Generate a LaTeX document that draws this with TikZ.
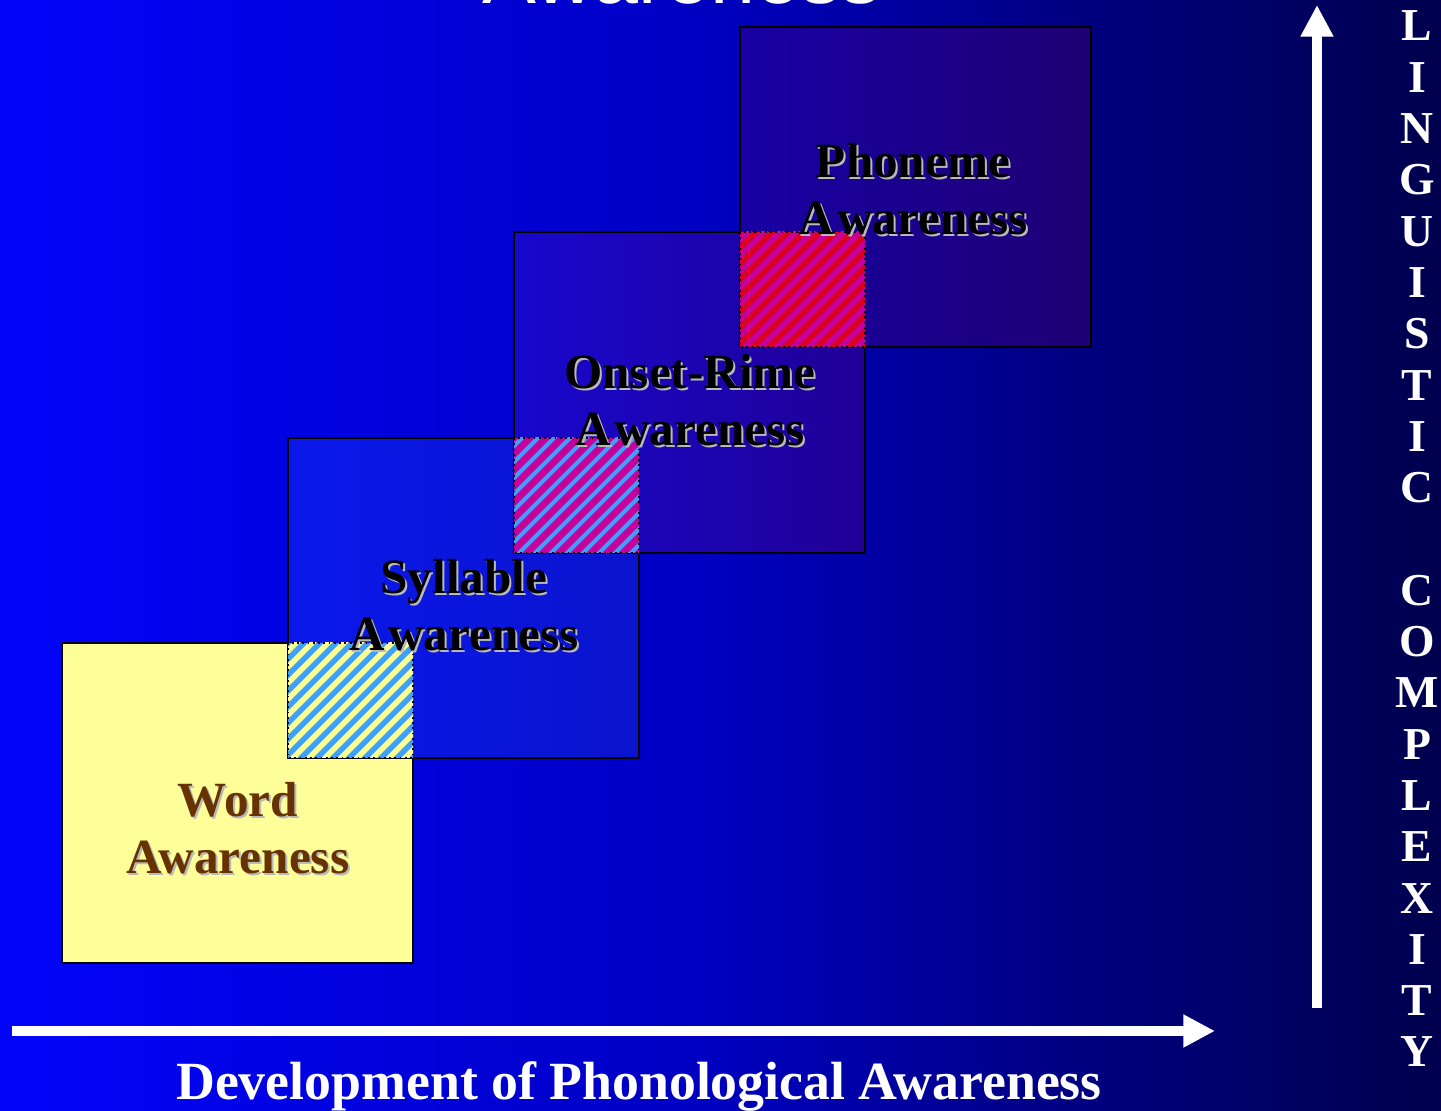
\documentclass[tikz,border=0pt]{standalone}
\usepackage{fontspec}
\setmainfont{Liberation Serif}
\newfontfamily\headfont{Liberation Sans}
\usetikzlibrary{arrows.meta}

\definecolor{bgA}{RGB}{2,4,250}
\definecolor{bgB}{RGB}{0,0,195}
\definecolor{bgC}{RGB}{0,0,125}
\definecolor{bgD}{RGB}{0,0,78}
\definecolor{wordfill}{RGB}{255,255,153}
\definecolor{wordtext}{RGB}{102,51,0}
\definecolor{sylL}{RGB}{10,24,235}
\definecolor{sylR}{RGB}{10,20,205}
\definecolor{onsL}{RGB}{24,8,205}
\definecolor{onsR}{RGB}{32,0,150}
\definecolor{phoL}{RGB}{24,0,165}
\definecolor{phoR}{RGB}{30,0,115}
\definecolor{skyblue}{RGB}{60,160,255}
\definecolor{paleyellow}{RGB}{255,255,140}
\definecolor{hotpink}{RGB}{200,0,155}
\definecolor{hatchred}{RGB}{220,0,35}
\definecolor{shadowgrey}{RGB}{185,185,185}

\pgfdeclarehorizontalshading{bgshade}{100bp}{color(0bp)=(bgA); color(25bp)=(bgA); color(49bp)=(bgB); color(63bp)=(bgC); color(75bp)=(bgD); color(100bp)=(bgD)}

\begin{document}
\begin{tikzpicture}[x=0.1mm, y=-0.1mm,
	stage/.style={draw=black, line width=0.6pt},
	lbl/.style={font=\fontsize{14}{16.2}\selectfont\bfseries, align=center, inner sep=0pt},
	shade lbl/.style={lbl, text=shadowgrey},
	axis arrow/.style={white, line width=2.85pt, -{Triangle[width=8.8pt,length=9pt]}},
	letter/.style={font=\fontsize{13}{13}\selectfont\bfseries, text=white, anchor=base, inner sep=0pt}]
	
	\useasboundingbox (0,0) rectangle (1441,1111);
	\shade[shading=bgshade] (0,0) rectangle (1441,1111);
	
	% title, cut off at the top
	\node[font=\headfont\fontsize{23}{23}\selectfont, text=white, anchor=base] (title) at (682,4) {Awareness};
	
	\coordinate[](word) at (62,643) ;
	\coordinate[](syllable) at (288,438) ;
	\coordinate[](onset) at (514,232) ;
	\coordinate[](phoneme) at (740,27) ;
	
	\fill[wordfill] (word) rectangle ++(351,320);
	\draw[stage] (word) rectangle ++(351,320);
	\shade[left color=sylL, right color=sylR] (syllable) rectangle ++(351,320);
	\draw[stage] (syllable) rectangle ++(351,320);
	\shade[left color=onsL, right color=onsR] (onset) rectangle ++(351,321);
	\draw[stage] (onset) rectangle ++(351,321);
	\shade[left color=phoL, right color=phoR] (phoneme) rectangle ++(351,320);
	\draw[stage] (phoneme) rectangle ++(351,320);
	
	% hatched overlaps
	\foreach \x/\y/\base/\stripe/\w in {288/643/skyblue/paleyellow/1.6, 514/438/hotpink/skyblue/1.2, 740/232/hatchred/hotpink/1.5}{
		\begin{scope}
			\clip (\x,\y) rectangle ++(125,115);
			\fill[\base] (\x,\y) rectangle ++(125,115);
			\foreach \k in {-144,-128,...,144}
				\draw[\stripe, line width=\w pt] (\x+\k,\y+120) -- ++(140,-140);
		\end{scope}
		\draw[densely dotted, line width=0.5pt] (\x,\y) rectangle ++(125,115);
	}
	
	\node[shade lbl] (word sh) at (240,830) {Word\\Awareness};
	\node[lbl, text=wordtext] (word lbl) at (238,828) {Word\\Awareness};
	\node[shade lbl] (syllable sh) at (466,607) {Syllable\\A\kern1pt wareness};
	\node[lbl, text=black] (syllable lbl) at (464,605) {Syllable\\A\kern1pt wareness};
	\node[shade lbl] (onset sh) at (692,402) {Onset-Rime\\A\kern1pt wareness};
	\node[lbl, text=black] (onset lbl) at (690,400) {Onset-Rime\\A\kern1pt wareness};
	\node[shade lbl] (phoneme sh) at (915,191) {Phoneme\\A\kern1pt wareness};
	\node[lbl, text=black] (phoneme lbl) at (913,189) {Phoneme\\A\kern1pt wareness};
	
	% axes
	\coordinate[](h start) at (12,1031) ;
	\coordinate[](h end) at (1215,1031) ;
	\coordinate[](v start) at (1317,1008) ;
	\coordinate[](v end) at (1317,5) ;
	\draw[axis arrow] (h start) -- (h end);
	\draw[axis arrow] (v start) -- (v end);
	
	\node[font=\fontsize{15.3}{15.3}\selectfont\bfseries, text=white, anchor=base] (x label) at (639,1100) {Development of Phonological Awareness};
	
	\foreach \ch [count=\i from 0] in {L,I,N,G,U,I,S,T,I,C,{},C,O,M,P,L,E,X,I,T,Y}
		\node[letter] (lc-\i) at (1417,41+51.3*\i) {\ch};
\end{tikzpicture}
\end{document}
